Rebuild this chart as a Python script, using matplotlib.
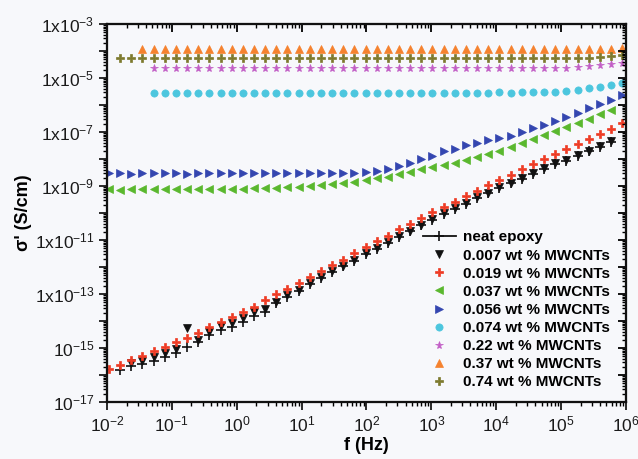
import numpy as np
import matplotlib
matplotlib.use("Agg")
import matplotlib.pyplot as plt
from matplotlib.lines import Line2D
from matplotlib.ticker import FixedLocator, LogLocator, FuncFormatter, NullFormatter

plt.rcParams['font.family'] = ['Liberation Sans', 'DejaVu Sans']
plt.rcParams['mathtext.fontset'] = 'custom'
plt.rcParams['mathtext.rm'] = 'Liberation Sans'
plt.rcParams['mathtext.bf'] = 'Liberation Sans:bold'

# measured frequencies (Hz)
freq = [0.0107, 0.0159, 0.0237, 0.0352, 0.0522, 0.0776, 0.115, 0.171, 0.255, 0.378,
        0.562, 0.836, 1.24, 1.85, 2.74, 4.07, 6.05, 8.99, 13.4, 19.9,
        29.5, 43.9, 65.2, 96.8, 144, 214, 318, 472, 701, 1040,
        1550, 2300, 3420, 5080, 7550, 11200, 16700, 24800, 36800, 54700,
        81300, 121000, 179000, 267000, 396000, 589000, 875000]

# log10 of sigma' (S/cm); each series starts at freq[first]
neat_first = 1
neat = [-15.81, -15.66, -15.58, -15.48, -15.32, -15.20, -14.98, -14.77, -14.52, -14.34,
        -14.22, -14.02, -13.82, -13.66, -13.35, -13.10, -12.88, -12.64, -12.42, -12.19,
        -11.98, -11.76, -11.52, -11.33, -11.12, -10.90, -10.68, -10.46, -10.25, -10.04,
        -9.85, -9.66, -9.45, -9.27, -9.08, -8.90, -8.74, -8.56, -8.37, -8.19,
        -8.06, -7.88, -7.71, -7.54, -7.36]

cnt007_first = 2
cnt007 = [-15.54, -15.50, -15.34, -15.17, -15.04, -14.27, -14.70, -14.40, -14.17, -14.09,
          -13.90, -13.68, -13.56, -13.28, -13.04, -12.84, -12.60, -12.38, -12.16, -11.95,
          -11.73, -11.49, -11.30, -11.09, -10.87, -10.65, -10.43, -10.22, -10.01, -9.83,
          -9.64, -9.42, -9.25, -9.05, -8.88, -8.72, -8.53, -8.35, -8.16, -8.04,
          -7.85, -7.69, -7.52, -7.33]

cnt019_first = 0
cnt019 = [-15.79, -15.63, -15.44, -15.30, -15.10, -14.97, -14.78, -14.64, -14.46, -14.23,
          -14.05, -13.86, -13.66, -13.47, -13.24, -13.01, -12.83, -12.60, -12.38, -12.15,
          -11.93, -11.74, -11.49, -11.27, -11.04, -10.84, -10.60, -10.41, -10.20, -9.97,
          -9.78, -9.58, -9.37, -9.17, -8.97, -8.78, -8.59, -8.38, -8.20, -8.01,
          -7.83, -7.64, -7.46, -7.27, -7.07, -6.89, -6.66]

cnt037_first = 0
cnt037 = [-9.12, -9.13, -9.12, -9.12, -9.12, -9.11, -9.12, -9.12, -9.11, -9.11,
          -9.11, -9.10, -9.10, -9.09, -9.08, -9.06, -9.05, -9.03, -8.99, -8.96,
          -8.93, -8.89, -8.84, -8.78, -8.72, -8.66, -8.57, -8.47, -8.38, -8.30,
          -8.24, -8.16, -8.04, -7.92, -7.82, -7.69, -7.57, -7.42, -7.27, -7.12,
          -6.97, -6.82, -6.67, -6.51, -6.35, -6.17]

cnt056_first = 0
cnt056 = [-8.53, -8.53, -8.54, -8.53, -8.53, -8.53, -8.53, -8.54, -8.53, -8.53,
          -8.53, -8.53, -8.53, -8.53, -8.53, -8.53, -8.53, -8.52, -8.53, -8.53,
          -8.52, -8.52, -8.51, -8.49, -8.44, -8.36, -8.25, -8.14, -8.00, -7.88,
          -7.72, -7.62, -7.48, -7.41, -7.31, -7.22, -7.13, -7.00, -6.87, -6.74,
          -6.60, -6.45, -6.30, -6.12, -5.96, -5.80, -5.63]

cnt074_first = 4
cnt074 = [-5.54, -5.54, -5.54, -5.55, -5.54, -5.54, -5.54, -5.54, -5.55, -5.54,
          -5.54, -5.54, -5.54, -5.54, -5.54, -5.55, -5.54, -5.54, -5.54, -5.54,
          -5.54, -5.54, -5.54, -5.54, -5.54, -5.54, -5.54, -5.54, -5.54, -5.54,
          -5.54, -5.53, -5.54, -5.53, -5.53, -5.52, -5.50, -5.47, -5.43, -5.38,
          -5.33, -5.27, -5.17]

cnt22_first = 4
cnt22 = [-4.63, -4.63, -4.64, -4.63, -4.63, -4.63, -4.63, -4.63, -4.64, -4.63,
         -4.63, -4.63, -4.63, -4.63, -4.63, -4.63, -4.63, -4.64, -4.63, -4.63,
         -4.63, -4.63, -4.63, -4.63, -4.63, -4.63, -4.63, -4.63, -4.63, -4.63,
         -4.63, -4.63, -4.63, -4.63, -4.63, -4.63, -4.63, -4.62, -4.60, -4.57,
         -4.53, -4.48, -4.45]

cnt37_first = 3
cnt37 = [-3.94, -3.94, -3.94, -3.94, -3.94, -3.94, -3.94, -3.94, -3.94, -3.94,
         -3.94, -3.94, -3.94, -3.94, -3.94, -3.94, -3.94, -3.94, -3.94, -3.94,
         -3.94, -3.94, -3.94, -3.94, -3.94, -3.94, -3.94, -3.94, -3.94, -3.94,
         -3.94, -3.94, -3.94, -3.94, -3.94, -3.94, -3.94, -3.94, -3.94, -3.94,
         -3.94, -3.93, -3.92, -3.89]

cnt74_first = 1
cnt74 = [-4.27, -4.27, -4.27, -4.27, -4.27, -4.27, -4.27, -4.27, -4.27, -4.27,
         -4.27, -4.27, -4.27, -4.27, -4.27, -4.27, -4.27, -4.27, -4.27, -4.27,
         -4.27, -4.27, -4.27, -4.27, -4.27, -4.27, -4.27, -4.27, -4.27, -4.27,
         -4.27, -4.27, -4.27, -4.27, -4.27, -4.27, -4.27, -4.27, -4.27, -4.27,
         -4.27, -4.27, -4.26, -4.23, -4.19, -4.14]

labels = ["neat epoxy", "0.007 wt % MWCNTs", "0.019 wt % MWCNTs", "0.037 wt % MWCNTs",
          "0.056 wt % MWCNTs", "0.074 wt % MWCNTs", "0.22 wt % MWCNTs",
          "0.37 wt % MWCNTs", "0.74 wt % MWCNTs"]

series = [(neat_first, neat, '+', '#111111', 6.5),
          (cnt007_first, cnt007, 'v', '#111111', 5.5),
          (cnt019_first, cnt019, 'P', '#ee3b24', 5.8),
          (cnt037_first, cnt037, '<', '#5ab82e', 5.2),
          (cnt056_first, cnt056, '>', '#3446b0', 5.2),
          (cnt074_first, cnt074, 'o', '#4cc6de', 5.2),
          (cnt22_first, cnt22, '*', '#c25ec6', 5.8),
          (cnt37_first, cnt37, '^', '#f5822e', 5.2),
          (cnt74_first, cnt74, 'P', '#7d7a2e', 5.2)]

bg = '#f7f8fb'
fig = plt.figure(figsize=(6.38, 4.59), dpi=100, facecolor=bg)
ax = fig.add_axes([0.1677, 0.1242, 0.8135, 0.8235], facecolor=bg)

handles = []
for (first, vals, mk, col, ms), lab in zip(series, labels):
    f = np.array(freq[first:first + len(vals)])
    s = 10.0 ** np.array(vals)
    ax.plot(f, s, ls='none', marker=mk, color=col, ms=ms, mew=1.2 if mk == '+' else 0.5)
    handles.append(Line2D([], [], ls='-' if mk == '+' else 'none', lw=1.3, marker=mk,
                          color=col, ms=ms, mew=1.2 if mk == '+' else 0.5, label=lab))

ax.set_xscale('log')
ax.set_yscale('log')
ax.set_xlim(1e-2, 1e6)
ax.set_ylim(1e-17, 1e-3)

# ticks: out on bottom/left, mirrored inward on top/right
def ylab(v, pos):
    e = int(round(np.log10(v)))
    if e % 2 == 0:
        return ''
    if e <= -15:
        return r'$\mathregular{10^{%d}}$' % e
    return r'$\mathregular{1x10^{%d}}$' % e

def xlab(v, pos):
    e = int(round(np.log10(v)))
    return r'$\mathregular{10^{%d}}$' % e

xmaj = FixedLocator([10.0 ** e for e in range(-2, 7)])
ymaj = FixedLocator([10.0 ** e for e in range(-17, -2)])
ax.xaxis.set_major_locator(xmaj)
ax.yaxis.set_major_locator(ymaj)
ax.xaxis.set_minor_locator(LogLocator(base=10, subs=np.arange(2, 10), numticks=100))
ax.yaxis.set_minor_locator(LogLocator(base=10, subs=np.arange(2, 10), numticks=100))
ax.xaxis.set_major_formatter(FuncFormatter(xlab))
ax.yaxis.set_major_formatter(FuncFormatter(ylab))
ax.xaxis.set_minor_formatter(NullFormatter())
ax.yaxis.set_minor_formatter(NullFormatter())
ax.tick_params(which='major', direction='out', length=6, width=1.3, labelsize=12.5,
               colors='#1a1a1a', pad=3)
ax.tick_params(which='minor', direction='out', length=3, width=1.0)

tx = ax.twiny()
tx.set_xscale('log')
tx.set_xlim(ax.get_xlim())
tx.xaxis.set_major_locator(FixedLocator([10.0 ** e for e in range(-2, 7)]))
tx.xaxis.set_minor_locator(LogLocator(base=10, subs=np.arange(2, 10), numticks=100))
tx.tick_params(which='major', direction='in', length=6, width=1.3, labeltop=False)
tx.tick_params(which='minor', direction='in', length=3, width=1.0)

ty = ax.twinx()
ty.set_yscale('log')
ty.set_ylim(ax.get_ylim())
ty.yaxis.set_major_locator(FixedLocator([10.0 ** e for e in range(-17, -2)]))
ty.yaxis.set_minor_locator(LogLocator(base=10, subs=np.arange(2, 10), numticks=100))
ty.tick_params(which='major', direction='in', length=6, width=1.3, labelright=False)
ty.tick_params(which='minor', direction='in', length=3, width=1.0)

for a in (ax, tx, ty):
    for sp in a.spines.values():
        sp.set_linewidth(1.5)
        sp.set_color('#111111')

ax.set_xlabel('f (Hz)', fontsize=13, fontweight='bold', labelpad=2)
ax.set_ylabel("\u03c3' (S/cm)", fontsize=13, fontweight='bold', labelpad=2)

ty.legend(handles=handles, loc='lower right', bbox_to_anchor=(0.99, 0.005), frameon=False,
          labelspacing=0.27, handlelength=2.2, handletextpad=0.45,
          borderpad=0.2, prop={'weight': 'bold', 'size': 11})

fig.savefig('out.png', dpi=100, facecolor=bg)
